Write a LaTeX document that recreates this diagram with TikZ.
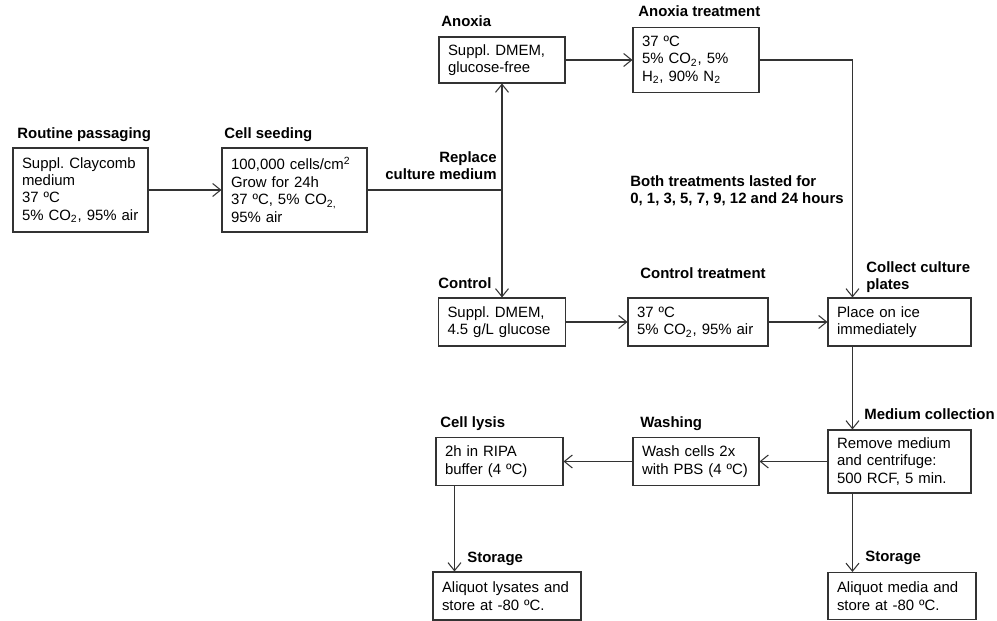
\documentclass[tikz,border=0pt]{standalone}
\usepackage{fontspec}
\setmainfont{Liberation Sans}
\frenchspacing
\usetikzlibrary{arrows.meta, positioning}
\definecolor{lngray}{HTML}{333333}

\begin{document}
\begin{tikzpicture}[
  >={Straight Barb[length=1.6mm, width=2.6mm]},
  box/.style={draw=lngray, line width=0.6pt, align=left, text=black,
    font=\fontsize{8.5}{9.9}\selectfont, inner xsep=0.18cm, inner ysep=2pt},
  hdr/.style={font=\fontsize{8.5}{10.2}\selectfont\bfseries, text=black,
    anchor=base west, inner sep=0pt, align=left},
  line/.style={lngray, line width=0.6pt},
  arr/.style={->, lngray, line width=0.6pt},
]

\useasboundingbox (0,0) rectangle (19.94,12.42);

% =============================================
% Preparation
% =============================================
\node[box, text width=2.34cm, minimum height=1.68cm] (rp) at (1.61,8.62)
  {Suppl. Claycomb\\medium\\37 ºC\\5\% CO\textsubscript{2}, 95\% air};
\node[hdr] (rphdr) at (0.34,9.64) {Routine passaging};

\node[box, text width=2.54cm, minimum height=1.68cm] (seed) at (5.89,8.62)
  {100,000 cells/cm\textsuperscript{2}\\Grow for 24h\\37 ºC, 5\% CO\textsubscript{2,}\\95\% air};
\node[hdr] (seedhdr) at (4.48,9.64) {Cell seeding};

\draw[arr] (rp.east) -- (seed.west);

% =============================================
% Anoxia / control branches
% =============================================
\node[box, text width=2.16cm, minimum height=0.92cm] (anox) at (10.04,11.22)
  {Suppl. DMEM,\\glucose-free};
\node[hdr] (anoxhdr) at (8.82,11.88) {Anoxia};

\node[box, text width=2.16cm, minimum height=1.30cm] (anoxtr) at (13.92,11.22)
  {37 ºC\\5\% CO\textsubscript{2}, 5\%\\H\textsubscript{2}, 90\% N\textsubscript{2}};
\node[hdr] (anoxtrhdr) at (12.76,12.08) {Anoxia treatment};

\node[box, text width=2.18cm, minimum height=0.96cm] (ctrl) at (10.04,5.98)
  {Suppl. DMEM,\\4.5 g/L glucose};
\node[hdr] (ctrlhdr) at (8.76,6.64) {Control};

\node[box, text width=2.44cm, minimum height=0.96cm] (ctrltr) at (13.96,5.98)
  {37 ºC\\5\% CO\textsubscript{2}, 95\% air};
\node[hdr] (ctrltrhdr) at (12.80,6.84) {Control treatment};

\node[box, text width=2.50cm, minimum height=0.96cm] (ice) at (17.99,5.98)
  {Place on ice\\immediately};
\node[hdr] (icehdr) at (17.32,6.62) {Collect culture\\plates};

% junction where the medium is replaced
\coordinate (repl) at (10.04,8.62);
\draw[line] (seed.east) -- (repl);
\draw[arr] (repl) -- (anox.south);
\draw[arr] (repl) -- (repl |- ctrl.north);
\node[hdr, anchor=base east, align=right] (replhdr) at (9.94,8.82)
  {Replace\\culture medium};

\node[hdr] (duration) at (12.60,8.34)
  {Both treatments lasted for\\0, 1, 3, 5, 7, 9, 12 and 24 hours};

\draw[arr] (anox.east) -- (anox.east -| anoxtr.west);
\draw[arr] (anoxtr.east) -| ([xshift=0.5cm]ice.north west);
\draw[arr] (ctrl.east) -- (ctrltr.west);
\draw[arr] (ctrltr.east) -- (ice.west);

% =============================================
% Collection and storage
% =============================================
\node[box, text width=2.50cm, minimum height=1.26cm] (medcol) at (17.99,3.19)
  {Remove medium\\and centrifuge:\\500 RCF, 5 min.};
\node[hdr] (medcolhdr) at (17.28,4.02) {Medium collection};

\node[box, text width=2.16cm, minimum height=0.96cm] (wash) at (13.92,3.19)
  {Wash cells 2x\\with PBS (4 ºC)};
\node[hdr] (washhdr) at (12.80,3.86) {Washing};

\node[box, text width=2.18cm, minimum height=0.96cm] (lysis) at (9.99,3.19)
  {2h in RIPA\\buffer (4 ºC)};
\node[hdr] (lysishdr) at (8.80,3.86) {Cell lysis};

\node[box, text width=2.60cm, minimum height=0.96cm] (storl) at (10.14,0.50)
  {Aliquot lysates and\\store at -80 ºC.};
\node[hdr] (storlhdr) at (9.34,1.16) {Storage};

\node[box, text width=2.60cm, minimum height=0.94cm] (storr) at (18.04,0.50)
  {Aliquot media and\\store at -80 ºC.};
\node[hdr] (storrhdr) at (17.30,1.18) {Storage};

\draw[arr] ([xshift=0.5cm]ice.south west) -- ([xshift=0.5cm]medcol.north west);
\draw[arr] (medcol.west) -- (wash.east);
\draw[arr] (wash.west) -- (lysis.east);
\draw[arr] ([xshift=0.38cm]lysis.south west) -- ([xshift=0.38cm]lysis.south west |- storl.north);
\draw[arr] ([xshift=0.5cm]medcol.south west) -- ([xshift=0.5cm]medcol.south west |- storr.north);

\end{tikzpicture}
\end{document}
